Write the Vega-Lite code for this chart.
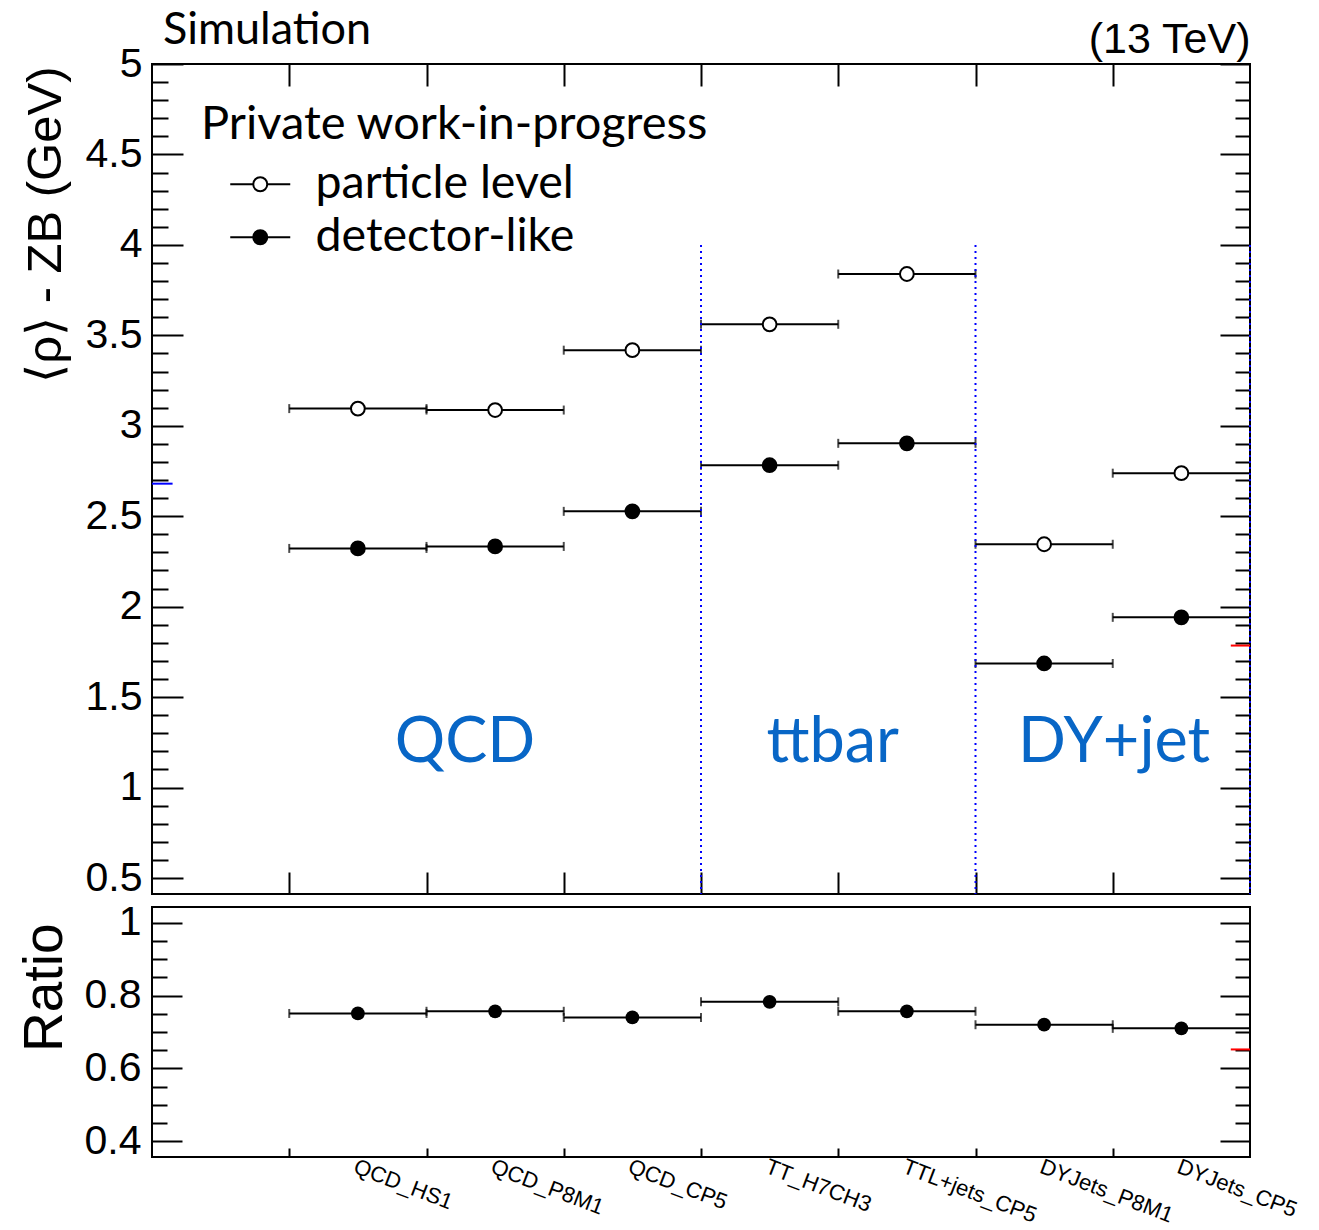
{
  "$schema": "https://vega.github.io/schema/vega-lite/v6.json",
  "background": "white",
  "padding": {"left": 16, "top": 7, "right": 5, "bottom": 0},
  "spacing": 0,
  "datasets": {
    "main": [
      {"sample": "QCD_HS1", "lo": 1, "hi": 2, "mid": 1.5, "particle level": 3.095, "detector-like": 2.322, "ratio": 0.751},
      {"sample": "QCD_P8M1", "lo": 2, "hi": 3, "mid": 2.5, "particle level": 3.087, "detector-like": 2.333, "ratio": 0.757},
      {"sample": "QCD_CP5", "lo": 3, "hi": 4, "mid": 3.5, "particle level": 3.418, "detector-like": 2.527, "ratio": 0.740},
      {"sample": "TT_H7CH3", "lo": 4, "hi": 5, "mid": 4.5, "particle level": 3.561, "detector-like": 2.782, "ratio": 0.783},
      {"sample": "TTL+jets_CP5", "lo": 5, "hi": 6, "mid": 5.5, "particle level": 3.839, "detector-like": 2.903, "ratio": 0.757},
      {"sample": "DYJets_P8M1", "lo": 6, "hi": 7, "mid": 6.5, "particle level": 2.345, "detector-like": 1.686, "ratio": 0.720},
      {"sample": "DYJets_CP5", "lo": 7, "hi": 8, "mid": 7.5, "particle level": 2.738, "detector-like": 1.941, "ratio": 0.710}
    ],
    "groups": [
      {"label": "QCD", "x": 2.28, "y": 1.141},
      {"label": "ttbar", "x": 4.96, "y": 1.141},
      {"label": "DY+jet", "x": 7.01, "y": 1.141}
    ],
    "dividers": [
      {"x": 4, "y": 4, "y2": 0.4116},
      {"x": 6, "y": 4, "y2": 0.4116},
      {"x": 8, "y": 4, "y2": 0.4116}
    ]
  },
  "vconcat": [
    {
      "width": 1098,
      "height": 830,
      "title": {"text": "Simulation", "anchor": "start", "frame": "group", "font": "Lato", "fontSize": 45, "fontWeight": "normal", "color": "black", "dx": 11, "dy": 75, "baseline": "alphabetic"},
      "resolve": {"scale": {"x": "shared", "y": "shared"}, "axis": {"x": "independent", "y": "independent"}},
      "layer": [
        {
          "data": {"name": "main"},
          "transform": [{"fold": ["particle level", "detector-like"], "as": ["level", "value"]}],
          "mark": {"type": "rule", "color": "black", "strokeWidth": 2},
          "encoding": {
            "x": {"field": "lo", "type": "quantitative", "scale": {"domain": [0, 8], "nice": false, "zero": false},
              "axis": {"orient": "bottom", "values": [1, 2, 3, 4, 5, 6, 7], "labels": false, "tickSize": -22, "title": null}},
            "x2": {"field": "hi"},
            "y": {"field": "value", "type": "quantitative", "scale": {"domain": [0.4116, 5], "nice": false, "zero": false},
              "axis": {"orient": "left",
                "values": [0.5,0.6,0.7,0.8,0.9,1,1.1,1.2,1.3,1.4,1.5,1.6,1.7,1.8,1.9,2,2.1,2.2,2.3,2.4,2.5,2.6,2.7,2.8,2.9,3,3.1,3.2,3.3,3.4,3.5,3.6,3.7,3.8,3.9,4,4.1,4.2,4.3,4.4,4.5,4.6,4.7,4.8,4.9,5],
                "tickSize": {"condition": {"test": "abs(datum.value*2 - round(datum.value*2)) < 0.001", "value": -31}, "value": -16},
                "labelExpr": "abs(datum.value*2 - round(datum.value*2)) < 0.001 ? format(datum.value, '~g') : ''",
                "labelPadding": 41,
                "title": "⟨ρ⟩ - ZB (GeV)", "titleFontSize": 49, "titleX": -92, "titleY": 2, "titleAngle": -90, "titleAlign": "right", "titleBaseline": "alphabetic"}}
          }
        },
        {
          "data": {"name": "main"},
          "transform": [{"fold": ["particle level", "detector-like"], "as": ["level", "value"]}],
          "mark": {"type": "tick", "orient": "vertical", "color": "black", "size": 9, "thickness": 2},
          "encoding": {
            "x": {"field": "lo", "type": "quantitative", "axis": null},
            "y": {"field": "value", "type": "quantitative", "axis": null}
          }
        },
        {
          "data": {"name": "main"},
          "transform": [{"fold": ["particle level", "detector-like"], "as": ["level", "value"]}],
          "mark": {"type": "tick", "orient": "vertical", "color": "black", "size": 9, "thickness": 2},
          "encoding": {
            "x": {"field": "hi", "type": "quantitative", "axis": null},
            "y": {"field": "value", "type": "quantitative", "axis": null}
          }
        },
        {
          "data": {"name": "dividers"},
          "mark": {"type": "rule", "color": "#0000ff", "strokeWidth": 2, "strokeDash": [2, 4]},
          "encoding": {
            "x": {"field": "x", "type": "quantitative", "axis": null},
            "y": {"field": "y", "type": "quantitative", "axis": null},
            "y2": {"field": "y2"}
          }
        },
        {
          "data": {"values": [{"x": 0, "x2": 0.15, "y": 2.68}]},
          "mark": {"type": "rule", "color": "#0000ff", "strokeWidth": 2},
          "encoding": {
            "x": {"field": "x", "type": "quantitative", "axis": null},
            "x2": {"field": "x2"},
            "y": {"field": "y", "type": "quantitative", "axis": null}
          }
        },
        {
          "data": {"values": [{"x": 7.86, "x2": 8, "y": 1.785}]},
          "mark": {"type": "rule", "color": "#ff0000", "strokeWidth": 2},
          "encoding": {
            "x": {"field": "x", "type": "quantitative", "axis": null},
            "x2": {"field": "x2"},
            "y": {"field": "y", "type": "quantitative", "axis": null}
          }
        },
        {
          "data": {"name": "groups"},
          "mark": {"type": "text", "font": "Lato", "fontSize": 63, "color": "#0866c6", "align": "center", "baseline": "alphabetic"},
          "encoding": {
            "x": {"field": "x", "type": "quantitative", "axis": null},
            "y": {"field": "y", "type": "quantitative", "axis": null},
            "text": {"field": "label"}
          }
        },
        {
          "data": {"name": "main"},
          "transform": [{"fold": ["particle level", "detector-like"], "as": ["level", "value"]}],
          "mark": {"type": "point", "shape": "circle", "filled": true, "stroke": "black", "strokeWidth": 2, "size": 190, "opacity": 1},
          "encoding": {
            "x": {"field": "mid", "type": "quantitative",
              "axis": {"orient": "top", "values": [1, 2, 3, 4, 5, 6, 7], "labels": false, "tickSize": -22,
                "title": "(13 TeV)", "titleFontSize": 43, "titleX": 1098, "titleY": -12, "titleAlign": "right", "titleBaseline": "alphabetic"}},
            "y": {"field": "value", "type": "quantitative",
              "axis": {"orient": "right",
                "values": [0.5,0.6,0.7,0.8,0.9,1,1.1,1.2,1.3,1.4,1.5,1.6,1.7,1.8,1.9,2,2.1,2.2,2.3,2.4,2.5,2.6,2.7,2.8,2.9,3,3.1,3.2,3.3,3.4,3.5,3.6,3.7,3.8,3.9,4,4.1,4.2,4.3,4.4,4.5,4.6,4.7,4.8,4.9,5],
                "tickSize": {"condition": {"test": "abs(datum.value*2 - round(datum.value*2)) < 0.001", "value": -30}, "value": -15},
                "labels": false, "title": null}},
            "fill": {"field": "level", "type": "nominal",
              "scale": {"domain": ["particle level", "detector-like"], "range": ["white", "black"]},
              "legend": {"orient": "none", "legendX": 49, "legendY": 38, "title": "Private work-in-progress",
                "titleFont": "Lato", "titleFontSize": 47, "titleFontWeight": "normal", "titleColor": "black", "titlePadding": 12, "titleLimit": 2000,
                "labelFont": "Lato", "labelFontSize": 46.5, "labelColor": "black", "labelOffset": 68, "labelLimit": 2000,
                "symbolType": "M0.3,0L1.45,0M2.15,0L3.3,0M2.15,0A0.35,0.35,0,1,1,1.45,0A0.35,0.35,0,1,1,2.15,0Z",
                "symbolSize": 1600, "symbolStrokeColor": "black", "symbolStrokeWidth": 2, "rowPadding": 6, "padding": 0}}
          }
        }
      ]
    },
    {
      "width": 1098,
      "height": 250,
      "resolve": {"scale": {"x": "shared", "y": "shared"}, "axis": {"x": "independent", "y": "independent"}},
      "layer": [
        {
          "data": {"name": "main"},
          "mark": {"type": "rule", "color": "black", "strokeWidth": 2},
          "encoding": {
            "x": {"field": "lo", "type": "quantitative", "scale": {"domain": [0, 8], "nice": false, "zero": false},
              "axis": {"orient": "bottom", "values": [1, 2, 3, 4, 5, 6, 7], "tickSize": -9,
                "labelExpr": "['', 'QCD_HS1', 'QCD_P8M1', 'QCD_CP5', 'TT_H7CH3', 'TTL+jets_CP5', 'DYJets_P8M1', 'DYJets_CP5'][datum.value]",
                "labelAngle": 21, "labelAlign": "left", "labelBaseline": "top", "labelOffset": 68.6, "labelPadding": 8,
                "labelFontSize": 22, "labelFlush": false, "labelOverlap": false, "labelBound": false, "title": null}},
            "x2": {"field": "hi"},
            "y": {"field": "ratio", "type": "quantitative", "scale": {"domain": [0.356, 1.044], "nice": false, "zero": false},
              "axis": {"orient": "left",
                "values": [0.4,0.45,0.5,0.55,0.6,0.65,0.7,0.75,0.8,0.85,0.9,0.95,1],
                "tickSize": {"condition": {"test": "abs(datum.value*5 - round(datum.value*5)) < 0.001", "value": -30}, "value": -15},
                "labelExpr": "abs(datum.value*5 - round(datum.value*5)) < 0.001 ? format(datum.value, '~g') : ''",
                "labelPadding": 41,
                "title": "Ratio", "titleFontSize": 55, "titleX": -91, "titleY": 16, "titleAngle": -90, "titleAlign": "right", "titleBaseline": "alphabetic"}}
          }
        },
        {
          "data": {"name": "main"},
          "mark": {"type": "tick", "orient": "vertical", "color": "black", "size": 9, "thickness": 2},
          "encoding": {
            "x": {"field": "lo", "type": "quantitative", "axis": null},
            "y": {"field": "ratio", "type": "quantitative", "axis": null}
          }
        },
        {
          "data": {"name": "main"},
          "mark": {"type": "tick", "orient": "vertical", "color": "black", "size": 9, "thickness": 2},
          "encoding": {
            "x": {"field": "hi", "type": "quantitative", "axis": null},
            "y": {"field": "ratio", "type": "quantitative", "axis": null}
          }
        },
        {
          "data": {"values": [{"x": 7.86, "x2": 8, "y": 0.652}]},
          "mark": {"type": "rule", "color": "#ff0000", "strokeWidth": 2},
          "encoding": {
            "x": {"field": "x", "type": "quantitative", "axis": null},
            "x2": {"field": "x2"},
            "y": {"field": "y", "type": "quantitative", "axis": null}
          }
        },
        {
          "data": {"name": "main"},
          "mark": {"type": "point", "shape": "circle", "filled": true, "color": "black", "size": 190, "opacity": 1},
          "encoding": {
            "x": {"field": "mid", "type": "quantitative", "axis": null},
            "y": {"field": "ratio", "type": "quantitative",
              "axis": {"orient": "right",
                "values": [0.4,0.45,0.5,0.55,0.6,0.65,0.7,0.75,0.8,0.85,0.9,0.95,1],
                "tickSize": {"condition": {"test": "abs(datum.value*5 - round(datum.value*5)) < 0.001", "value": -30}, "value": -15},
                "labels": false, "title": null}}
          }
        }
      ]
    }
  ],
  "config": {
    "view": {"stroke": "black", "strokeWidth": 2},
    "axis": {"domain": false, "grid": false, "tickColor": "black", "tickWidth": 2, "labelColor": "black", "titleColor": "black",
      "labelFont": "Liberation Sans", "labelFontSize": 41, "titleFont": "Liberation Sans", "titleFontWeight": "normal",
      "labelOverlap": false, "labelFlush": false, "labelBound": false}
  }
}
